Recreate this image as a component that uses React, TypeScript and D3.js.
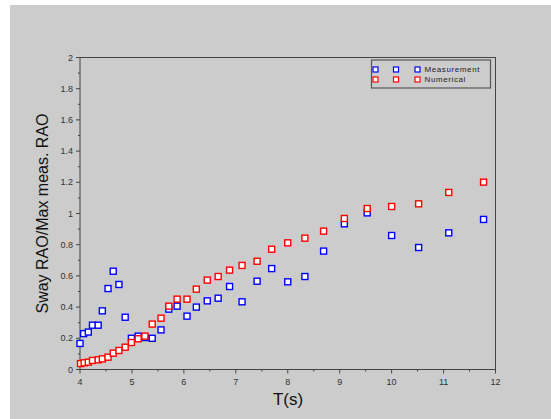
import React from "react";
import * as d3 from "d3";

const periodT = [4.0, 4.07, 4.16, 4.24, 4.35, 4.43, 4.54, 4.64, 4.75, 4.87, 4.99, 5.12, 5.25, 5.39, 5.56, 5.71, 5.87, 6.06, 6.24, 6.45, 6.66, 6.88, 7.12, 7.41, 7.69, 8.0, 8.33, 8.69, 9.09, 9.53, 10.0, 10.52, 11.1, 11.77];
const measurement = [0.167, 0.23, 0.24, 0.284, 0.284, 0.376, 0.519, 0.63, 0.545, 0.335, 0.2, 0.214, 0.205, 0.2, 0.254, 0.387, 0.406, 0.342, 0.4, 0.44, 0.457, 0.532, 0.434, 0.566, 0.647, 0.562, 0.596, 0.759, 0.934, 1.004, 0.859, 0.782, 0.876, 0.962];
const numericalT = [4.01, 4.08, 4.16, 4.24, 4.35, 4.43, 4.54, 4.64, 4.75, 4.87, 4.99, 5.12, 5.25, 5.39, 5.56, 5.71, 5.87, 6.06, 6.24, 6.45, 6.66, 6.88, 7.12, 7.41, 7.69, 8.0, 8.33, 8.69, 9.09, 9.53, 10.0, 10.52, 11.1, 11.77];
const numerical = [0.038, 0.043, 0.047, 0.058, 0.062, 0.068, 0.079, 0.105, 0.122, 0.143, 0.173, 0.197, 0.214, 0.291, 0.329, 0.406, 0.451, 0.451, 0.515, 0.573, 0.596, 0.637, 0.667, 0.694, 0.771, 0.812, 0.842, 0.887, 0.968, 1.032, 1.045, 1.062, 1.135, 1.201];
const xTicks = [4, 5, 6, 7, 8, 9, 10, 11, 12];
const yTicks = [0, 0.2, 0.4, 0.6, 0.8, 1, 1.2, 1.4, 1.6, 1.8, 2];
const seriesNames = ["Measurement", "Numerical"];
const seriesColors = ["#0000ff", "#ff0000"];

const W = 551;
const H = 419;
const left = 80;
const right = 495.5;
const top = 57.5;
const bottom = 369.5;

export default function App() {
  const x = d3.scaleLinear().domain([4, 12]).range([left, right]);
  const y = d3.scaleLinear().domain([0, 2]).range([bottom, top]);
  const xMinor = d3.range(4.5, 12, 1);
  const yMinor = d3.range(0.1, 2, 0.2);
  const font = "Arial, 'Liberation Sans', sans-serif";
  const ms = 6;
  const sets = [
    { xs: periodT, ys: measurement, color: seriesColors[0] },
    { xs: numericalT, ys: numerical, color: seriesColors[1] },
  ];
  return (
    <svg width={W} height={H} style={{ position: "absolute", left: 0, top: 0 }}>
      <rect x={0} y={0} width={W} height={H} fill="#ffffff" />
      <rect x={10} y={5} width={W - 10} height={H - 5} fill="#cccccc" />
      <rect x={left} y={top} width={right - left} height={bottom - top} fill="none" stroke="#444" strokeWidth={1} />
      {yTicks.map((t) => (
        <g key={"y" + t}>
          <line x1={left - 4} x2={left} y1={y(t)} y2={y(t)} stroke="#444" />
          <text x={left - 7} y={y(t)} dy="0.35em" textAnchor="end" fontSize={9} fill="#333" fontFamily={font}>
            {d3.format("~g")(t)}
          </text>
        </g>
      ))}
      {yMinor.map((t) => (
        <line key={"ym" + t} x1={left - 2} x2={left} y1={y(t)} y2={y(t)} stroke="#444" />
      ))}
      {xTicks.map((t) => (
        <g key={"x" + t}>
          <line x1={x(t)} x2={x(t)} y1={bottom} y2={bottom + 4} stroke="#444" />
          <text x={x(t)} y={bottom + 12} dy="0.35em" textAnchor="middle" fontSize={9} fill="#333" fontFamily={font}>
            {t}
          </text>
        </g>
      ))}
      {xMinor.map((t) => (
        <line key={"xm" + t} x1={x(t)} x2={x(t)} y1={bottom} y2={bottom + 2} stroke="#444" />
      ))}
      {sets.map((s, si) =>
        s.xs.map((v, i) => (
          <rect
            key={si + "-" + i}
            x={x(v) - ms / 2}
            y={y(s.ys[i]) - ms / 2}
            width={ms}
            height={ms}
            fill="#ffffff"
            stroke={s.color}
            strokeWidth={1.4}
          />
        ))
      )}
      <text x={288} y={399} dy="0.35em" textAnchor="middle" fontSize={17} fill="#111" fontFamily={font}>
        T(s)
      </text>
      <text
        transform={`translate(42,${(top + bottom) / 2}) rotate(-90)`}
        dy="0.35em"
        textAnchor="middle"
        fontSize={16}
        fill="#111"
        fontFamily={font}
      >
        Sway RAO/Max meas. RAO
      </text>
      <rect x={371.5} y={60} width={119} height={28} fill="#cccccc" stroke="#555" strokeWidth={1.2} />
      {seriesNames.map((n, i) => (
        <g key={n}>
          {[375.5, 396, 417.5].map((mx) => (
            <rect key={mx} x={mx - 2.5} y={69.5 + i * 10 - 2.5} width={5} height={5} fill="#ffffff" stroke={seriesColors[i]} strokeWidth={1.2} />
          ))}
          <text x={424.5} y={69.5 + i * 10} dy="0.35em" fontSize={8} fill="#222" fontFamily={font} letterSpacing={0.6}>
            {n}
          </text>
        </g>
      ))}
    </svg>
  );
}
